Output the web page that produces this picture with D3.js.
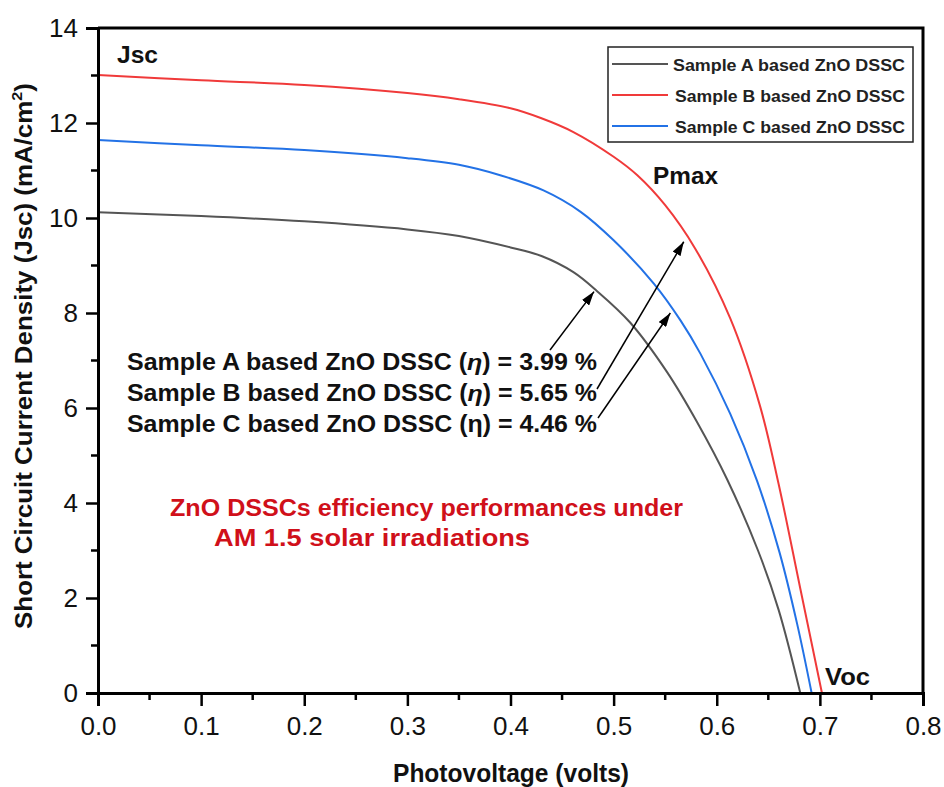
<!DOCTYPE html>
<html>
<head>
<meta charset="utf-8">
<script src="https://cdn.jsdelivr.net/npm/d3@7"></script>
<style>
  html, body { margin: 0; padding: 0; background: #fff; }
  svg { display: block; font-family: "Liberation Sans", Arial, sans-serif; }
</style>
</head>
<body>
<div id="chart"></div>
<script>
// J-V data (volts, mA/cm2)
const voltsA = [0, 0.1, 0.2, 0.3, 0.35, 0.4, 0.43, 0.461, 0.484, 0.516, 0.552, 0.581, 0.61, 0.64, 0.66, 0.681];
const jscA   = [10.12, 10.04, 9.93, 9.76, 9.62, 9.38, 9.2, 8.86, 8.46, 7.8, 6.75, 5.7, 4.5, 3.0, 1.75, 0];

const voltsB = [0, 0.1, 0.2, 0.3, 0.35, 0.4, 0.43, 0.461, 0.5, 0.523, 0.55, 0.579, 0.613, 0.642, 0.66, 0.681, 0.702];
const jscB   = [13.01, 12.9, 12.8, 12.63, 12.5, 12.31, 12.1, 11.81, 11.29, 10.9, 10.27, 9.36, 7.89, 6.04, 4.4, 2.2, 0];

const voltsC = [0, 0.1, 0.2, 0.3, 0.35, 0.39, 0.432, 0.468, 0.5, 0.539, 0.565, 0.584, 0.613, 0.639, 0.661, 0.678, 0.692];
const jscC   = [11.64, 11.53, 11.43, 11.26, 11.12, 10.9, 10.58, 10.13, 9.53, 8.62, 7.84, 7.15, 5.88, 4.47, 2.95, 1.45, 0];

const seriesNames = ["Sample A based ZnO DSSC", "Sample B  based ZnO DSSC", "Sample C  based ZnO DSSC"];
const seriesColors = ["#555555", "#f03a3a", "#2372e6"];

const xTicks = [0, 0.1, 0.2, 0.3, 0.4, 0.5, 0.6, 0.7, 0.8];
const yTicks = [0, 2, 4, 6, 8, 10, 12, 14];

const efficiencyLabels = [
  ["Sample A based ZnO DSSC (", "\u03b7", ") = 3.99 %", true],
  ["Sample B based ZnO DSSC (", "\u03b7", ") = 5.65 %", true],
  ["Sample C based ZnO DSSC (", "\u03b7", ") = 4.46 %", false]
];
// arrow targets on each curve (volts, mA/cm2), in order A, B, C
const pmaxV = [0.481, 0.568, 0.555];
const pmaxJ = [8.45, 9.5, 8.0];

const width = 944, height = 787;
const margin = { left: 98, right: 21, top: 28, bottom: 94 };

const svg = d3.select("#chart").append("svg")
  .attr("width", width)
  .attr("height", height);

const x = d3.scaleLinear().domain([0, 0.8]).range([margin.left, width - margin.right]);
const y = d3.scaleLinear().domain([0, 14]).range([height - margin.bottom, margin.top]);

const defs = svg.append("defs");
defs.append("marker")
  .attr("id", "arrowhead")
  .attr("viewBox", "0 0 14 9")
  .attr("refX", 14).attr("refY", 4.5)
  .attr("markerWidth", 14).attr("markerHeight", 9)
  .attr("markerUnits", "userSpaceOnUse")
  .attr("orient", "auto")
  .append("path")
  .attr("d", "M0,0 L14,4.5 L0,9 Z")
  .attr("fill", "#000");

// curves
const line = d3.line().x(d => x(d[0])).y(d => y(d[1])).curve(d3.curveCatmullRom.alpha(0.5));
const curves = [
  d3.zip(voltsA, jscA),
  d3.zip(voltsB, jscB),
  d3.zip(voltsC, jscC)
];
svg.append("g").selectAll("path")
  .data(curves)
  .join("path")
  .attr("d", line)
  .attr("fill", "none")
  .attr("stroke", (d, i) => seriesColors[i])
  .attr("stroke-width", 2);

// axes
const xAxis = svg.append("g")
  .attr("transform", `translate(0,${y(0)})`)
  .call(d3.axisBottom(x).tickValues(xTicks).tickFormat(d3.format(".1f")).tickSize(13).tickPadding(11));
const yAxis = svg.append("g")
  .attr("transform", `translate(${x(0)},0)`)
  .call(d3.axisLeft(y).tickValues(yTicks).tickSize(12).tickPadding(8));

[xAxis, yAxis].forEach(a => {
  a.select(".domain").attr("stroke-width", 3);
  a.selectAll(".tick line").attr("stroke-width", 2.5);
  a.selectAll(".tick text")
    .attr("font-family", "'Liberation Sans', Arial, sans-serif")
    .attr("font-size", 26)
    .attr("fill", "#111");
});

// minor ticks
svg.append("g").selectAll("line")
  .data(d3.range(0.05, 0.8, 0.1))
  .join("line")
  .attr("x1", d => x(d)).attr("x2", d => x(d))
  .attr("y1", y(0)).attr("y2", y(0) + 7)
  .attr("stroke", "#000").attr("stroke-width", 2.5);
svg.append("g").selectAll("line")
  .data(d3.range(1, 14, 2))
  .join("line")
  .attr("x1", x(0)).attr("x2", x(0) - 7)
  .attr("y1", d => y(d)).attr("y2", d => y(d))
  .attr("stroke", "#000").attr("stroke-width", 2.5);

// top and right frame
svg.append("path")
  .attr("d", `M${x(0)},${y(14)} H${x(0.8)} V${y(0)}`)
  .attr("fill", "none")
  .attr("stroke", "#000")
  .attr("stroke-width", 3);

// axis titles
svg.append("text")
  .attr("x", 511).attr("y", 782)
  .attr("text-anchor", "middle")
  .attr("font-weight", "bold")
  .attr("font-size", 25)
  .attr("fill", "#111")
  .attr("textLength", 236)
  .attr("lengthAdjust", "spacingAndGlyphs")
  .text("Photovoltage (volts)");

const yTitle = svg.append("text")
  .attr("text-anchor", "middle")
  .attr("font-weight", "bold")
  .attr("font-size", 24)
  .attr("fill", "#111");
yTitle.append("tspan").text("Short Circuit Current Density (Jsc) (mA/cm");
yTitle.append("tspan").attr("font-size", 15).attr("dy", -10).text("2");
yTitle.append("tspan").attr("dy", 10).text(")");
const yTitleLen = yTitle.node().getComputedTextLength();
yTitle.attr("transform", `translate(32,356) rotate(-90) scale(${546 / yTitleLen},1)`);

// point labels
const bold = (txt, px, py, size, w) => svg.append("text")
  .attr("x", px).attr("y", py)
  .attr("font-weight", "bold")
  .attr("font-size", size)
  .attr("fill", "#111")
  .attr("textLength", w)
  .attr("lengthAdjust", "spacingAndGlyphs")
  .text(txt);
bold("Jsc", 117, 63, 23, 41);
bold("Pmax", 653, 184, 23, 65);
bold("Voc", 825, 685, 23, 45);

// efficiency annotation
efficiencyLabels.forEach((r, i) => {
  const t = svg.append("text")
    .attr("x", 127).attr("y", 370 + i * 31)
    .attr("font-weight", "bold")
    .attr("font-size", 23)
    .attr("fill", "#111")
    .attr("textLength", 470)
    .attr("lengthAdjust", "spacingAndGlyphs");
  t.append("tspan").text(r[0]);
  t.append("tspan").attr("font-style", r[3] ? "italic" : "normal").text(r[1]);
  t.append("tspan").text(r[2]);
});

// arrows from labels to the maximum power points
const arrowStart = [[550, 350], [597, 389], [598, 418]];
svg.append("g").selectAll("line")
  .data(arrowStart)
  .join("line")
  .attr("x1", d => d[0]).attr("y1", d => d[1])
  .attr("x2", (d, i) => x(pmaxV[i]))
  .attr("y2", (d, i) => y(pmaxJ[i]))
  .attr("stroke", "#000")
  .attr("stroke-width", 1.5)
  .attr("marker-end", "url(#arrowhead)");

// red caption
const caption = svg.append("g").attr("fill", "#d0101a").attr("font-weight", "bold").attr("font-size", 23);
caption.append("text").attr("x", 170).attr("y", 516)
  .attr("textLength", 513).attr("lengthAdjust", "spacingAndGlyphs")
  .text("ZnO DSSCs efficiency performances under");
caption.append("text").attr("x", 214).attr("y", 546)
  .attr("textLength", 316).attr("lengthAdjust", "spacingAndGlyphs")
  .text("AM 1.5 solar irradiations");

// legend
const legend = svg.append("g");
legend.append("rect")
  .attr("x", 608).attr("y", 47)
  .attr("width", 305).attr("height", 95)
  .attr("fill", "#fff")
  .attr("stroke", "#222")
  .attr("stroke-width", 1.5);
const rows = legend.selectAll("g.row")
  .data(seriesNames)
  .join("g")
  .attr("class", "row")
  .attr("transform", (d, i) => `translate(0,${64 + i * 31})`);
rows.append("line")
  .attr("x1", 612).attr("x2", 668)
  .attr("stroke", (d, i) => seriesColors[i])
  .attr("stroke-width", 2);
rows.append("text")
  .attr("x", (d, i) => i === 0 ? 673 : 675)
  .attr("y", 7)
  .attr("font-weight", "bold")
  .attr("font-size", 16)
  .attr("fill", "#222")
  .attr("textLength", (d, i) => i === 0 ? 232 : 230)
  .attr("lengthAdjust", "spacingAndGlyphs")
  .text(d => d);
</script>
</body>
</html>
